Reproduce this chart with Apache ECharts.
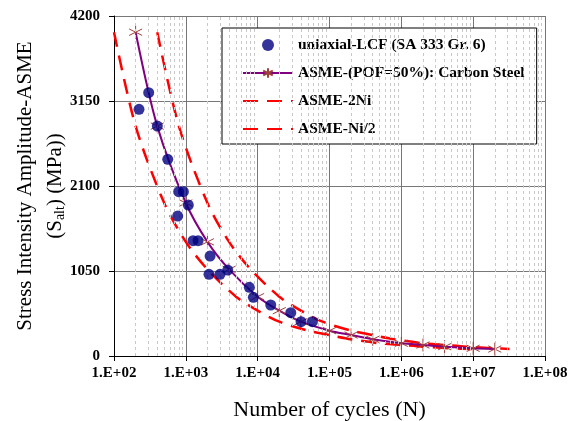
<!DOCTYPE html>
<html>
<head>
<meta charset="utf-8">
<script src="https://cdn.jsdelivr.net/npm/echarts@6/dist/echarts.min.js"></script>
<style>
  html, body { margin: 0; padding: 0; background: #fff; }
  #container { width: 582px; height: 421px; }
</style>
</head>
<body>
<div id="container"></div>
<script>
// test data: [cycles, stress MPa]
var lcfData = [
  [223, 3047], [304, 3253], [401, 2841], [560, 2430], [795, 2030], [925, 2030],
  [770, 1729], [1084, 1865], [1260, 1424], [1480, 1424], [2175, 1235],
  [2100, 1009], [2990, 1009], [3830, 1062], [7650, 849], [8710, 725],
  [15200, 630], [28900, 535], [40200, 424], [57800, 424]
];
// ASME mean curve (carbon steel)
var meanData = [
  [200, 4000], [400, 2840], [1000, 1890], [2000, 1410], [4000, 1070],
  [10000, 733], [20000, 560], [40000, 424], [100000, 313], [200000, 259],
  [400000, 206], [1000000, 157], [2000000, 136], [4000000, 115],
  [10000000, 95], [20000000, 86]
];
var ni2Data = [
  [100, 4000], [200, 2840], [500, 1890], [1000, 1410], [2000, 1070],
  [5000, 733], [10000, 560], [20000, 424], [50000, 313], [100000, 259],
  [200000, 206], [500000, 157], [1000000, 136], [2000000, 115],
  [5000000, 95], [10000000, 86]
];
var niHalfData = [
  [400, 4000], [800, 2840], [2000, 1890], [4000, 1410], [8000, 1070],
  [20000, 733], [40000, 560], [80000, 424], [200000, 313], [400000, 259],
  [800000, 206], [2000000, 157], [4000000, 136], [8000000, 115],
  [20000000, 95], [32000000, 88]
];
var yTicks = [0, 1050, 2100, 3150, 4200];

// minor vertical grid lines 2..9 per decade
var minorLines = [];
for (var e = 2; e < 8; e++) {
  for (var m = 2; m < 10; m++) {
    minorLines.push({ xAxis: m * Math.pow(10, e) });
  }
}

var serif = "Liberation Serif";
var myChart = echarts.init(document.getElementById("container"));
var option = {
  animation: false,
  grid: { left: 114, right: 37, top: 16, bottom: 65, outerBoundsMode: "none" },
  legend: {
    orient: "vertical",
    left: 222,
    top: 28,
    data: [
      { name: "uniaxial-LCF (SA 333 Gr. 6)", icon: "circle" },
      "ASME-(POF=50%): Carbon Steel",
      { name: "ASME-2Ni", itemStyle: { opacity: 0 } },
      { name: "ASME-Ni/2", itemStyle: { opacity: 0 } },
    ],
    backgroundColor: "#fff",
    borderColor: "#000",
    borderWidth: 1,
    borderRadius: 0,
    padding: [9, 12, 7, 20],
    itemWidth: 50,
    itemHeight: 12,
    itemGap: 12,
    textStyle: { fontFamily: serif, fontWeight: "bold", fontSize: 15.5, color: "#000" },
  },
  xAxis: {
    type: "log",
    logBase: 10,
    min: 100,
    max: 100000000,
    name: "Number of cycles (N)",
    nameLocation: "middle",
    nameGap: 43,
    nameMoveOverlap: false,
    nameTextStyle: { fontFamily: serif, fontSize: 22, color: "#000" },
    axisLine: { onZero: false, lineStyle: { color: "#000", width: 1 } },
    axisTick: { show: true, length: 5, lineStyle: { color: "#000" } },
    axisLabel: {
      fontFamily: serif, fontWeight: "bold", fontSize: 15, color: "#000", margin: 10,
      formatter: function (v) {
        var p = Math.round(Math.log10(v));
        return "1.E+" + (p < 10 ? "0" : "") + p;
      },
    },
    splitLine: { show: true, lineStyle: { color: "#777", width: 1 } },
  },
  yAxis: {
    type: "value",
    min: yTicks[0],
    max: yTicks[yTicks.length - 1],
    interval: 1050,
    name: "{a|Stress Intensity Amplitude-ASME}\n{a|(S}{s|alt}{a|) (MPa))}",
    nameLocation: "middle",
    nameRotate: 90,
    nameGap: 44,
    nameMoveOverlap: false,
    nameTextStyle: {
      rich: {
        a: { fontFamily: serif, fontSize: 21, color: "#000", lineHeight: 30 },
        s: { fontFamily: serif, fontSize: 14, color: "#000", lineHeight: 30, padding: [10, 0, 0, 0] },
      },
    },
    axisLine: { show: true, lineStyle: { color: "#000", width: 1 } },
    axisTick: { show: true, length: 5, lineStyle: { color: "#000" } },
    axisLabel: {
      fontFamily: serif, fontWeight: "bold", fontSize: 15, color: "#000", margin: 14,
      formatter: function (v) { return String(v); },
    },
    splitLine: { show: true, lineStyle: { color: "#777", width: 1 } },
  },
  series: [
    {
      name: "minor",
      type: "line",
      data: [],
      silent: true,
      markLine: {
        silent: true,
        symbol: ["none", "none"],
        label: { show: false },
        lineStyle: { color: "#c8c8c8", type: [3, 3], width: 1 },
        data: minorLines,
      },
    },
    {
      name: "ASME-2Ni",
      type: "line",
      data: ni2Data,
      smooth: 0.3,
      symbol: "none",
      lineStyle: { color: "#ff0000", width: 2.5, type: [15, 9] },
      itemStyle: { color: "#ff0000" },
      z: 3,
    },
    {
      name: "ASME-Ni/2",
      type: "line",
      data: niHalfData,
      smooth: 0.3,
      symbol: "none",
      lineStyle: { color: "#ff0000", width: 2.5, type: [15, 9] },
      itemStyle: { color: "#ff0000" },
      z: 3,
    },
    {
      name: "ASME-(POF=50%): Carbon Steel",
      type: "line",
      data: meanData,
      smooth: 0.3,
      symbol: "path://M5,0 L5,10 M0.7,2.5 L9.3,7.5 M9.3,2.5 L0.7,7.5",
      symbolSize: 13,
      lineStyle: { color: "#800080", width: 2 },
      itemStyle: { color: "rgba(0,0,0,0)", borderColor: "#a0403a", borderWidth: 1 },
      z: 4,
    },
    {
      name: "uniaxial-LCF (SA 333 Gr. 6)",
      type: "scatter",
      data: lcfData,
      symbol: "circle",
      symbolSize: 11,
      itemStyle: { color: "#000080" },
      z: 5,
    },
  ],
};
myChart.setOption(option);
</script>
</body>
</html>
